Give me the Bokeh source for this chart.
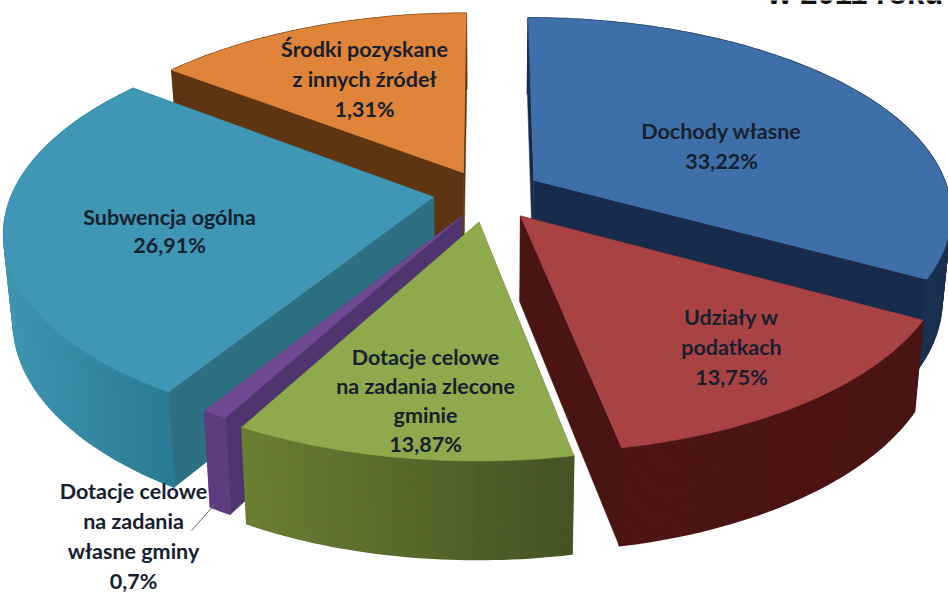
import math
from bokeh.plotting import figure
from bokeh.models import Range1d
from bokeh.core.properties import value
from bokeh.embed import file_html
from bokeh.resources import INLINE

# ---- data ----
names = [["Dochody własne"], ["Udziały w", "podatkach"],
         ["Dotacje celowe", "na zadania zlecone", "gminie"],
         ["Dotacje celowe", "na zadania", "własne gminy"],
         ["Subwencja ogólna"], ["Środki pozyskane", "z innych źródeł"]]
shares = [33.22, 13.75, 13.87, 0.7, 26.91, 1.31]        # printed labels
drawn_sweep = [119, 50, 39.5, 3, 96, 52.5]              # degrees as drawn
title = "w 2011 roku"

# ---- styling / placement ----
explode = [0.115, 0.115, 0.115, 0.115, 0.125, 0.115]
radius = [0.985, 0.985, 0.985, 0.975, 1.0, 0.98]
nudge_x = [6, 5, 0, 0, -1, -2]
nudge_y = [-5, 1, 3, 0, -4, -4]
top_col = ["#3f6fa8", "#a94343", "#8eaa4d", "#6f4a93", "#3f97b5", "#e0843a"]
wall_a = ["#1a3050", "#4c1514", "#6b7f32", "#5c3d7e", "#3f95b0", "#5e3510"]
wall_b = ["#1a3050", "#4a1413", "#435322", "#5c3d7e", "#2b7a94", "#5e3510"]
side_col = ["#172c4c", "#4a1413", "#5f7230", "#4f3570", "#2d7084", "#5e3510"]
label_x = [721, 731, 425, 133, 169, 364]
label_y = [130, 316, 356, 490, 216, 48]
line_h = [30, 30, 29, 30, 28, 30]
draw_order = [5, 0, 4, 3, 1, 2]
CX, CY, RX, RY, K, DEPTH, SHRINK = 486, 196, 421, 195, 0.1645, 85, 0.98
TEXT = "#16202e"
FONT = "Lato"
FS = "21.5px"


def top_pt(u, v, dx, dy):
    w = 1 / (1 - K * v)
    return CX + dx + RX * u * w, CY + dy + RY * v * w


def bot_pt(u, v, dx, dy):
    w = 1 / (1 - K * v)
    return CX + dx + RX * u * w * SHRINK, CY + dy + RY * v * w * SHRINK + DEPTH * w


def mix(a, b, f):
    ca = [int(a[i:i + 2], 16) for i in (1, 3, 5)]
    cb = [int(b[i:i + 2], 16) for i in (1, 3, 5)]
    return "#%02x%02x%02x" % tuple(round(x + (y - x) * f) for x, y in zip(ca, cb))


p = figure(width=948, height=592, output_backend="svg", toolbar_location=None,
           x_range=Range1d(0, 948), y_range=Range1d(592, 0),
           min_border=0, outline_line_color=None, background_fill_color="white")
p.axis.visible = False
p.grid.visible = False

starts = []
a = -90.0
for s in drawn_sweep:
    starts.append(a)
    a += s

for i in draw_order:
    t0, sw = starts[i], drawn_sweep[i]
    m = math.radians(t0 + sw / 2)
    ax, ay = explode[i] * math.cos(m), explode[i] * math.sin(m)
    dx, dy = nudge_x[i], nudge_y[i]
    n = max(4, int(sw))
    arc = []
    for j in range(n + 1):
        t = math.radians(t0 + sw * j / n)
        arc.append((ax + radius[i] * math.cos(t), ay + radius[i] * math.sin(t)))
    tops = [top_pt(q[0], q[1], dx, dy) for q in arc]
    bots = [bot_pt(q[0], q[1], dx, dy) for q in arc]
    tc, bc = top_pt(ax, ay, dx, dy), bot_pt(ax, ay, dx, dy)
    for end_t, end_b in ((tops[0], bots[0]), (tops[-1], bots[-1])):
        p.patch([tc[0], end_t[0], end_b[0], bc[0]], [tc[1], end_t[1], end_b[1], bc[1]],
                fill_color=side_col[i], line_color=side_col[i], line_width=0.5)
    xs_q, ys_q, cols = [], [], []
    xl, xr = min(q[0] for q in tops), max(q[0] for q in tops)
    for j in range(n):
        xs_q.append([tops[j][0], tops[j + 1][0], bots[j + 1][0], bots[j][0]])
        ys_q.append([tops[j][1], tops[j + 1][1], bots[j + 1][1], bots[j][1]])
        f = ((tops[j][0] + tops[j + 1][0]) / 2 - xl) / max(xr - xl, 1)
        cols.append(mix(wall_a[i], wall_b[i], f))
    p.patches(xs_q, ys_q, fill_color=cols, line_color=cols, line_width=1.5)
    p.patch([tc[0]] + [q[0] for q in tops], [tc[1]] + [q[1] for q in tops],
            fill_color=top_col[i], line_color=top_col[i], line_width=0.5)

p.line([215, 191], [503, 530], line_color="#666666", line_width=1)

for i in range(6):
    rows = names[i] + [f"{shares[i]:g}%".replace(".", ",")]
    for r, row in enumerate(rows):
        p.text([label_x[i]], [label_y[i] + r * line_h[i]], text=[row],
               text_font=value(FONT), text_font_style="bold", text_font_size=FS,
               text_color=TEXT, text_align="center", text_baseline="middle")

p.text([767], [-7], text=[title], text_font=value("Liberation Sans"),
       text_font_style="bold", text_font_size="31px", text_color="#111111",
       text_align="left", text_baseline="alphabetic")

open("out.html", "w").write(file_html(p, INLINE))
